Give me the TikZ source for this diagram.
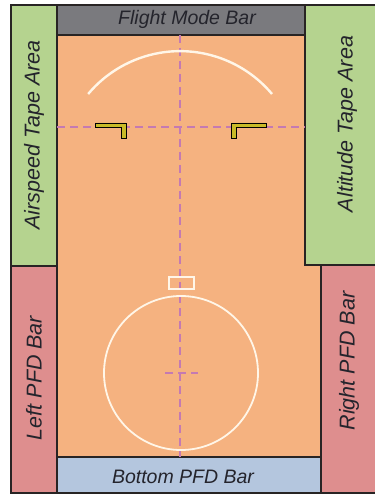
\documentclass[tikz,border=0pt]{standalone}
\usepackage{fontspec}
\setmainfont{Liberation Sans}
\definecolor{tapegreen}{RGB}{181,211,143}
\definecolor{modegray}{RGB}{122,122,126}
\definecolor{pfdorange}{RGB}{245,178,128}
\definecolor{barpink}{RGB}{222,142,142}
\definecolor{barblue}{RGB}{180,198,222}
\definecolor{dashpink}{RGB}{196,122,178}
\definecolor{wingyellow}{RGB}{200,186,40}
\definecolor{linewhite}{RGB}{255,246,232}
\definecolor{txt}{RGB}{36,36,44}
\definecolor{edge}{RGB}{40,36,36}
\begin{document}
\begin{tikzpicture}[x=1pt,y=-1pt,
  label/.style={font=\fontsize{19.5}{20}\selectfont\itshape, text=txt, inner sep=0pt},
  vlabel/.style={label, rotate=90, font=\fontsize{21.5}{22}\selectfont\itshape},
  edgeline/.style={draw=edge, line width=1.3pt},
  guide/.style={draw=dashpink, line width=2pt, dash pattern=on 8pt off 5pt},
  wing/.style={fill=wingyellow, draw=black, line width=0.9pt, line join=miter},
  marker/.style={draw=linewhite, line width=1.8pt}]
\useasboundingbox (0,0) rectangle (375,494);
% fills
\fill[tapegreen] (11,5) rectangle (57,266);
\fill[barpink] (11,266) rectangle (57,494);
\fill[modegray] (57,5) rectangle (305,35);
\fill[tapegreen] (305,5) rectangle (375,265);
\fill[barpink] (321,265) rectangle (375,494);
\fill[pfdorange] (57,35) -- (305,35) -- (305,265) -- (321,265) -- (321,457) -- (57,457) -- cycle;
\fill[barblue] (57,457) rectangle (321,494);
% borders
\draw[edgeline] (11,494) -- (11,5) -- (375,5);
\draw[edgeline] (57,5) -- (57,494);
\draw[edgeline] (305,5) -- (305,265) -- (375,265);
\draw[edgeline] (321,265) -- (321,494);
\draw[edgeline] (57,35) -- (305,35);
\draw[edgeline] (57,457) -- (321,457);
\draw[edgeline] (11,266) -- (57,266);
\draw[edgeline] (11,493) -- (375,493);
% guides
\draw[guide] (180,35) -- (180,457);
\draw[guide] (57,127) -- (305,127);
\draw[guide] (165,373) -- (198,373);
% horizon arc and circle
\draw[draw=linewhite, line width=2.4pt] (272,94) arc[start angle=-40, end angle=-140, radius=120];
\draw[marker] (181,373) circle[radius=77];
\draw[marker, line width=1.6pt] (169,277) rectangle (194,289);
% wings
\draw[wing] (95,123) -- (126,123) -- (126,138) -- (121,138) -- (121,127.5) -- (95,127.5) -- cycle;
\draw[wing] (266,123) -- (231,123) -- (231,138) -- (236,138) -- (236,127.5) -- (266,127.5) -- cycle;
% labels
\node[label] (fmb) at (187,19) {Flight Mode Bar};
\node[label] (bpb) at (183,477) {Bottom PFD Bar};
\node[vlabel] (ast) at (34,135) {Airspeed Tape Area};
\node[vlabel] (alt) at (347,124) {Altitude Tape Area};
\node[vlabel] (lpb) at (34,378) {Left PFD Bar};
\node[vlabel] (rpb) at (349,361) {Right PFD Bar};
\end{tikzpicture}
\end{document}
